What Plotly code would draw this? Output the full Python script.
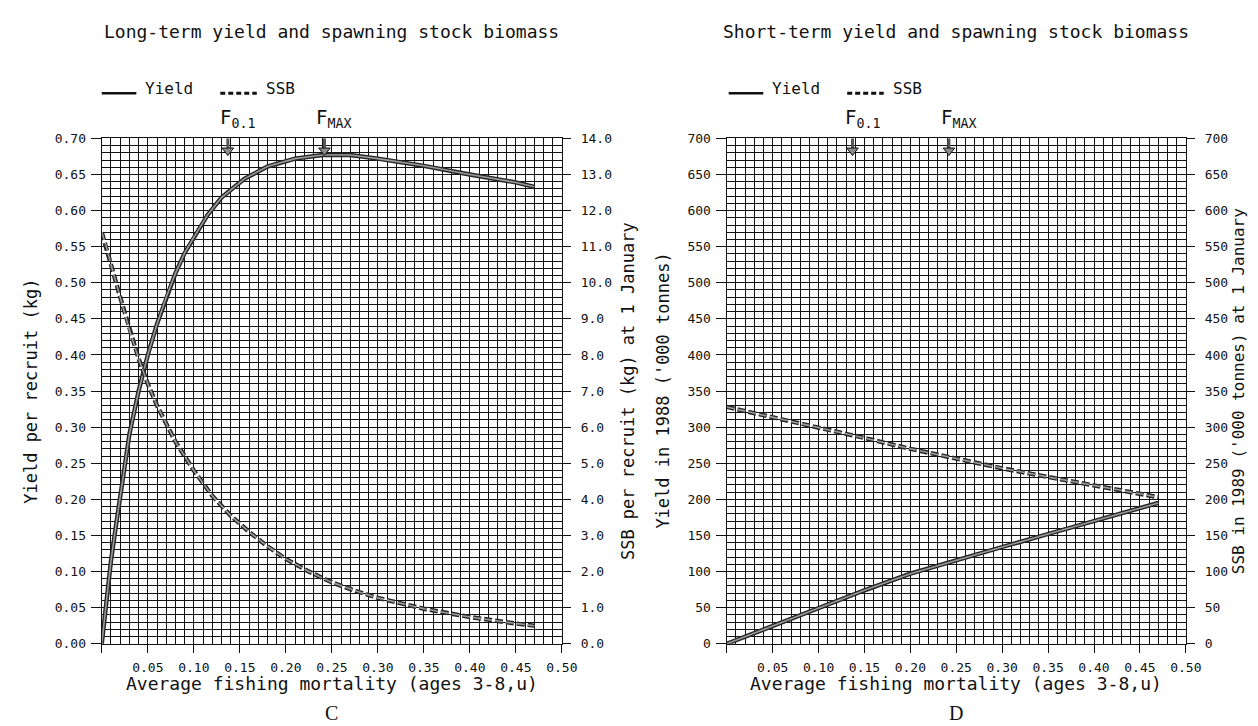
import plotly.graph_objects as go

# ---------------- data ----------------
# Panel C: long-term (per recruit)
F_LT = [0, 0.005, 0.01, 0.015, 0.02, 0.025, 0.03, 0.04, 0.05, 0.06, 0.07, 0.08, 0.09,
        0.10, 0.115, 0.13, 0.155, 0.18, 0.21, 0.24, 0.27, 0.30, 0.35, 0.40, 0.45, 0.47]
YPR = [0, 0.06, 0.115, 0.16, 0.205, 0.25, 0.29, 0.35, 0.40, 0.443, 0.48, 0.513, 0.541,
       0.563, 0.594, 0.618, 0.644, 0.661, 0.672, 0.677, 0.677, 0.672, 0.662, 0.650, 0.639, 0.633]
F_SSB_LT = [0, 0.005, 0.01, 0.02, 0.03, 0.04, 0.05, 0.06, 0.07, 0.08, 0.10, 0.12, 0.14,
            0.16, 0.18, 0.20, 0.225, 0.25, 0.275, 0.30, 0.35, 0.40, 0.45, 0.47]
SSB_PR = [11.4, 11.0, 10.5, 9.6, 8.7, 7.9, 7.2, 6.6, 6.1, 5.6, 4.8, 4.1, 3.55,
          3.1, 2.7, 2.35, 2.0, 1.7, 1.47, 1.27, 0.97, 0.74, 0.56, 0.50]

# Panel D: short-term ('000 tonnes)
F_ST = [0, 0.05, 0.10, 0.15, 0.20, 0.25, 0.30, 0.35, 0.40, 0.45, 0.47]
YIELD_ST = [0, 25, 50, 74, 97, 116, 134, 152, 170, 188, 195]
SSB_ST = [328, 314, 299, 285, 270, 256, 243, 231, 219, 208, 203]

# Reference points
F_REF = [0.137, 0.242]
F_REF_LABELS = ["F<sub>0.1</sub>", "F<sub>MAX</sub>"]

X_TICKS = [0, 0.05, 0.10, 0.15, 0.20, 0.25, 0.30, 0.35, 0.40, 0.45, 0.50]
X_TICKTEXT = [""] + ["%.2f" % v for v in X_TICKS[1:]]

TITLE_C = "Long-term yield and spawning stock biomass"
TITLE_D = "Short-term yield and spawning stock biomass"
XTITLE = "Average fishing mortality (ages 3-8,u)"
YTITLE_C = "Yield per recruit (kg)"
Y2TITLE_C = "SSB per recruit (kg) at 1 January"
YTITLE_D = "Yield in 1988 ('000 tonnes)"
Y2TITLE_D = "SSB in 1989 ('000 tonnes) at 1 January"
LEGEND_NAMES = ["Yield", "SSB"]

# ---------------- layout geometry ----------------
W, H = 1258, 726
def px(x): return x / W
def py(y): return 1 - y / H

XL = (95, 561)
XR = (728, 1193)
YT, YB = 126, 642

FONT = "DejaVu Sans Mono"
INK = "#111111"
LINE_DARK = "#262626"
LINE_FILL = "#9a9a9a"
DASH = "8px,3px"

fig = go.Figure()

def add_series(x, y, xa, ya, dash):
    d = DASH if dash else "solid"
    fig.add_trace(go.Scatter(x=x, y=y, xaxis=xa, yaxis=ya, mode="lines",
                             line=dict(color=LINE_DARK, width=4.4, dash=d),
                             showlegend=False, hoverinfo="skip"))
    fig.add_trace(go.Scatter(x=x, y=y, xaxis=xa, yaxis=ya, mode="lines",
                             line=dict(color=LINE_FILL, width=1.6, dash=d),
                             showlegend=False, hoverinfo="skip"))

add_series(F_LT, YPR, "x", "y", False)
add_series(F_SSB_LT, SSB_PR, "x", "y2", True)
add_series(F_ST, YIELD_ST, "x2", "y3", False)
add_series(F_ST, SSB_ST, "x2", "y4", True)

# reference markers (F0.1, Fmax): short stem + downward triangle
for xa, ya, top in (("x", "y", 0.70), ("x2", "y3", 700)):
    fig.add_trace(go.Scatter(x=F_REF, y=[top * 0.990] * 2, xaxis=xa, yaxis=ya, mode="markers",
                             marker=dict(symbol="line-ns", size=8,
                                         line=dict(color="#555555", width=3)),
                             showlegend=False, hoverinfo="skip"))
    fig.add_trace(go.Scatter(x=F_REF, y=[top * 0.976] * 2, xaxis=xa, yaxis=ya, mode="markers",
                             marker=dict(symbol="triangle-down", size=10, color="#8a8a8a",
                                         line=dict(color=INK, width=1)),
                             showlegend=False, hoverinfo="skip"))

tickfont = dict(family=FONT, size=13, color=INK)
GW = 1.4

def xaxis(dom, anchor):
    return dict(domain=[px(dom[0]), px(dom[1])], range=[0, 0.5], anchor=anchor,
                tickvals=X_TICKS, ticktext=X_TICKTEXT, ticks="outside", ticklen=8,
                tickwidth=1.2, tickcolor=INK, tickfont=tickfont, zeroline=False,
                showline=True, linecolor=INK, linewidth=1.4, mirror=True,
                ticklabelstandoff=3,
                showgrid=True, gridcolor=INK, gridwidth=GW,
                minor=dict(dtick=0.01, showgrid=True, gridcolor=INK, gridwidth=GW, ticks=""),
                fixedrange=True)

def yaxis(rng, dtick, fmt, anchor, side="left", overlay=None, minor_dt=None):
    d = dict(domain=[py(YB), py(YT)], range=rng, dtick=dtick, tick0=0, tickformat=fmt,
             anchor=anchor, side=side, ticks="outside", ticklen=10 if side == "left" else 8,
             tickwidth=1.2, tickcolor=INK, tickfont=tickfont, zeroline=False, showline=True,
             linecolor=INK, linewidth=1.4, fixedrange=True,
             ticklabelstandoff=2 if side == "left" else 7)
    if overlay:
        d["overlaying"] = overlay
        d["showgrid"] = False
    else:
        d.update(showgrid=True, gridcolor=INK, gridwidth=GW)
        d["minor"] = dict(dtick=minor_dt, showgrid=True, gridcolor=INK, gridwidth=GW, ticks="")
    return d

fig.update_layout(
    width=W, height=H, margin=dict(l=0, r=0, t=0, b=0),
    paper_bgcolor="white", plot_bgcolor="white", showlegend=False,
    font=dict(family=FONT, color=INK, size=14),
    xaxis=xaxis(XL, "y"),
    yaxis=yaxis([0, 0.7], 0.05, ".2f", "x", minor_dt=0.01),
    yaxis2=yaxis([0, 14], 1, ".1f", "x", side="right", overlay="y"),
    xaxis2=xaxis(XR, "y3"),
    yaxis3=yaxis([0, 700], 50, "d", "x2", minor_dt=10),
    yaxis4=yaxis([0, 700], 50, "d", "x2", side="right", overlay="y3"),
)

ann = []
shapes = []
def text(x, y, s, size=18, angle=0, xanchor="center", yanchor="middle", fam=FONT):
    ann.append(dict(x=px(x), y=py(y), xref="paper", yref="paper", text=s, showarrow=False,
                    textangle=angle, xanchor=xanchor, yanchor=yanchor,
                    font=dict(family=fam, size=size, color=INK)))

# panel titles
text(XL[0], 17, TITLE_C, size=18, xanchor="left")
text(XR[0] - 6, 17, TITLE_D, size=18, xanchor="left")

# legends (drawn manually: sample line + label)
for x0 in (XL[0], XR[0] + 2):
    shapes.append(dict(type="line", xref="paper", yref="paper", x0=px(x0), x1=px(x0 + 35),
                       y0=py(80), y1=py(80), line=dict(color=INK, width=2.5)))
    text(x0 + 42, 75, LEGEND_NAMES[0], size=16, xanchor="left")
    shapes.append(dict(type="line", xref="paper", yref="paper", x0=px(x0 + 120),
                       x1=px(x0 + 157), y0=py(80), y1=py(80),
                       line=dict(color=INK, width=3, dash="5px,3px")))
    text(x0 + 164, 75, LEGEND_NAMES[1], size=16, xanchor="left")

# axis titles
text((XL[0] + XL[1]) / 2, 683, XTITLE, size=18)
text((XR[0] + XR[1]) / 2, 683, XTITLE, size=18)
text((XL[0] + XL[1]) / 2, 713, "C", size=20, fam="Liberation Serif")
text((XR[0] + XR[1]) / 2, 713, "D", size=20, fam="Liberation Serif")
text(23, (YT + YB) / 2, YTITLE_C, size=17, angle=-90)
text(628, (YT + YB) / 2, Y2TITLE_C, size=17, angle=-90)
text(664, (YT + YB) / 2, YTITLE_D, size=17, angle=-90)
text(1246, (YT + YB) / 2, Y2TITLE_D, size=16, angle=-90)

# F reference labels
for xa in ("x", "x2"):
    for f, lab in zip(F_REF, F_REF_LABELS):
        ann.append(dict(x=f, y=py(YT - 5), xref=xa, yref="paper", text=lab, showarrow=False,
                        xanchor="left", yanchor="bottom", xshift=-10,
                        font=dict(family=FONT, size=19, color=INK)))

fig.update_layout(annotations=ann, shapes=shapes)
fig.write_html("out.html")
